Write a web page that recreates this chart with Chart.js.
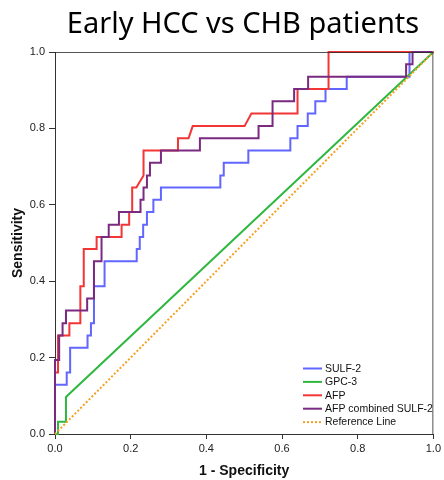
<!DOCTYPE html>
<html><head><meta charset="utf-8">
<script src="https://cdn.jsdelivr.net/npm/chart.js@4.4.0/dist/chart.umd.min.js"></script>
<style>html,body{margin:0;padding:0;background:#fff}#wrap{width:444px;height:480px;position:relative}</style>
</head><body><div id="wrap"><canvas id="c"></canvas></div>
<script>
const chartTitle = 'Early HCC vs CHB patients';
const xAxisTitle = '1 - Specificity';
const yAxisTitle = 'Sensitivity';
const tickValues = [0, 0.2, 0.4, 0.6, 0.8, 1.0];
const tickLabels = ['0.0', '0.2', '0.4', '0.6', '0.8', '1.0'];
const seriesNames = ['SULF-2', 'GPC-3', 'AFP', 'AFP combined SULF-2', 'Reference Line'];

// ROC vertices: [1 - specificity, sensitivity]
const sulf2Points = [[0,0],[0,0.129],[0.031,0.129],[0.031,0.161],[0.040,0.161],[0.040,0.226],[0.086,0.226],[0.086,0.258],[0.095,0.258],[0.095,0.290],[0.103,0.290],[0.103,0.387],[0.131,0.387],[0.131,0.452],[0.216,0.452],[0.216,0.484],[0.224,0.484],[0.224,0.516],[0.233,0.516],[0.233,0.548],[0.243,0.548],[0.243,0.581],[0.260,0.581],[0.260,0.613],[0.280,0.613],[0.280,0.645],[0.437,0.645],[0.437,0.677],[0.446,0.677],[0.446,0.710],[0.511,0.710],[0.511,0.742],[0.622,0.742],[0.622,0.774],[0.641,0.774],[0.641,0.806],[0.668,0.806],[0.668,0.839],[0.688,0.839],[0.688,0.871],[0.715,0.871],[0.715,0.903],[0.771,0.903],[0.771,0.935],[0.937,0.935],[0.937,1],[1,1]];
const gpc3Points = [[0,0],[0.008,0],[0.008,0.032],[0.029,0.032],[0.029,0.097],[1,1]];
const afpPoints = [[0,0],[0,0.161],[0.008,0.161],[0.008,0.258],[0.038,0.258],[0.038,0.290],[0.067,0.290],[0.067,0.387],[0.076,0.387],[0.076,0.484],[0.110,0.484],[0.110,0.516],[0.176,0.516],[0.176,0.548],[0.196,0.548],[0.196,0.581],[0.204,0.581],[0.204,0.645],[0.215,0.645],[0.234,0.677],[0.234,0.742],[0.325,0.742],[0.325,0.774],[0.353,0.774],[0.364,0.806],[0.501,0.806],[0.519,0.839],[0.641,0.839],[0.641,0.903],[0.723,0.903],[0.723,1],[1,1]];
const combinedPoints = [[0,0],[0,0.194],[0.011,0.194],[0.011,0.258],[0.020,0.258],[0.020,0.290],[0.029,0.290],[0.029,0.323],[0.085,0.323],[0.085,0.355],[0.103,0.355],[0.103,0.452],[0.123,0.452],[0.123,0.516],[0.142,0.516],[0.142,0.548],[0.169,0.548],[0.169,0.581],[0.226,0.581],[0.226,0.613],[0.234,0.613],[0.234,0.645],[0.243,0.645],[0.243,0.677],[0.251,0.677],[0.251,0.710],[0.280,0.710],[0.280,0.742],[0.383,0.742],[0.383,0.774],[0.538,0.774],[0.538,0.806],[0.575,0.806],[0.575,0.871],[0.632,0.871],[0.632,0.903],[0.669,0.903],[0.669,0.935],[0.928,0.935],[0.928,0.968],[0.945,0.968],[0.945,1],[1,1]];
const referencePoints = [[0,0],[1,1]];

const seriesColors = ['#6066ff', '#2fb840', '#f23535', '#7a2a80', '#f5a020'];
const toXY = pts => pts.map(p => ({x: p[0], y: p[1]}));
const allPoints = [sulf2Points, gpc3Points, afpPoints, combinedPoints, referencePoints];

const datasets = allPoints.map((pts, i) => ({
  label: seriesNames[i],
  data: toXY(pts),
  borderColor: seriesColors[i],
  backgroundColor: seriesColors[i],
  borderWidth: 2,
  borderDash: i === 4 ? [2, 2] : [],
  pointRadius: 0,
  tension: 0,
  fill: false,
  clip: false,
  order: i === 4 ? 0 : 5 - i
}));

const axisFont = {family: 'Liberation Sans, Arial, sans-serif', size: 11};
const titleFont = {family: 'Liberation Sans, Arial, sans-serif', size: 14, weight: 'bold'};

const decor = {
  id: 'decor',
  afterDatasetsDraw(chart) {
    const {ctx, chartArea: a} = chart;
    ctx.save();
    ctx.strokeStyle = 'rgba(40,40,40,0.8)';
    ctx.lineWidth = 1;
    ctx.beginPath();
    ctx.moveTo(a.left, a.top + 0.5); ctx.lineTo(a.right, a.top + 0.5);
    ctx.moveTo(a.right - 0.5, a.top); ctx.lineTo(a.right - 0.5, a.bottom);
    ctx.stroke();
    ctx.restore();
  },
  afterDraw(chart) {
    const {ctx} = chart;
    ctx.save();
    // title
    ctx.fillStyle = '#000';
    ctx.font = '29px "Noto Sans", sans-serif';
    ctx.textAlign = 'center';
    ctx.textBaseline = 'alphabetic';
    ctx.fillText(chartTitle, 243, 32.5);
    // legend
    ctx.font = '10.5px "Liberation Sans", Arial, sans-serif';
    ctx.textAlign = 'left';
    ctx.textBaseline = 'middle';
    chart.data.datasets.forEach((ds, i) => {
      const y = 368.5 + i * 13.4;
      ctx.strokeStyle = ds.borderColor;
      ctx.lineWidth = 2;
      ctx.setLineDash(ds.borderDash || []);
      ctx.beginPath();
      ctx.moveTo(303, y); ctx.lineTo(322, y);
      ctx.stroke();
      ctx.setLineDash([]);
      ctx.fillStyle = '#111';
      ctx.fillText(ds.label, 325, y + 0.5);
    });
    ctx.restore();
  }
};

function setTicks(scale) {
  scale.ticks = tickValues.map(v => ({value: v}));
}

new Chart(document.getElementById('c'), {
  type: 'line',
  data: {datasets},
  plugins: [decor],
  options: {
    responsive: true,
    maintainAspectRatio: false,
    animation: false,
    layout: {padding: {top: 52, right: 6.5, left: 0, bottom: 0}},
    plugins: {legend: {display: false}, title: {display: false}, tooltip: {enabled: false}},
    scales: {
      x: {
        type: 'linear', min: 0, max: 1,
        afterBuildTicks: setTicks,
        afterFit: s => { s.height = 46; },
        ticks: {font: axisFont, color: '#222', padding: 3, maxRotation: 0, autoSkip: false,
          callback: (v, i) => tickLabels[i]},
        grid: {drawOnChartArea: false, drawTicks: true, tickLength: 5, color: '#333'},
        border: {display: true, color: '#333', width: 1},
        title: {display: true, text: xAxisTitle, font: titleFont, color: '#111', padding: {top: 0, bottom: 0}}
      },
      y: {
        type: 'linear', min: 0, max: 1,
        afterBuildTicks: setTicks,
        afterFit: s => { s.width = 55; },
        ticks: {font: axisFont, color: '#222', padding: 4, autoSkip: false,
          callback: (v, i) => tickLabels[i]},
        grid: {drawOnChartArea: false, drawTicks: true, tickLength: 6, color: '#333'},
        border: {display: true, color: '#333', width: 1},
        title: {display: true, text: yAxisTitle, font: titleFont, color: '#111', padding: {top: 10, bottom: 0}}
      }
    }
  }
});
</script></body></html>
